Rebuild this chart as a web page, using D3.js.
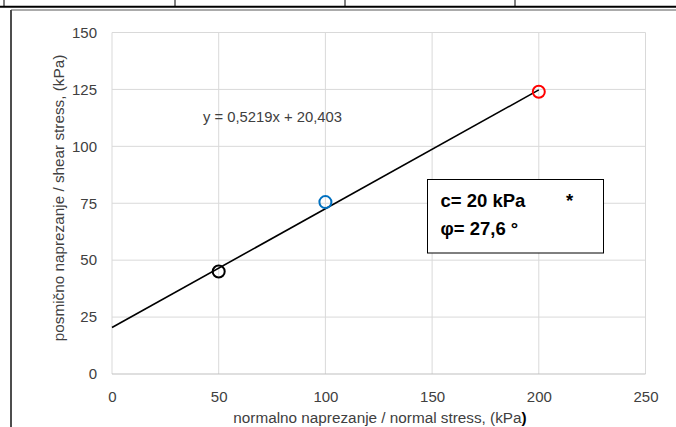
<!DOCTYPE html>
<html><head><meta charset="utf-8">
<script src="https://cdn.jsdelivr.net/npm/d3@7"></script>
<style>
html,body{margin:0;padding:0;background:#fff;}
svg{display:block;font-family:"Liberation Sans",Arial,sans-serif;}
</style></head>
<body>
<svg id="c" width="676" height="427"></svg>
<script>
const xTicks = [0, 50, 100, 150, 200, 250];
const yTicks = [0, 25, 50, 75, 100, 125, 150];
const pointsX = [50, 100, 200];
const pointsY = [45, 75.5, 124];
const pointColors = ["#000000", "#0070c0", "#ff0000"];
const slope = 0.5219, intercept = 20.403;
const lineX = [0, 200];
const equationText = "y = 0,5219x + 20,403";
const boxLines = ["c= 20 kPa", "φ= 27,6 °"];
const xTitle = "normalno naprezanje / normal stress, (kPa";
const yTitle = "posmično naprezanje / shear stress, (kPa)";

const svg = d3.select("#c");
const x = d3.scaleLinear().domain([0, 250]).range([112, 645.5]);
const y = d3.scaleLinear().domain([0, 150]).range([374, 32.5]);

// page decorations (table above chart)
svg.append("line").attr("x1",0).attr("x2",676).attr("y1",6.8).attr("y2",6.8).attr("stroke","#000").attr("stroke-width",2);
[4,175,345,515].forEach(v=>svg.append("line").attr("x1",v).attr("x2",v).attr("y1",0).attr("y2",6).attr("stroke","#000").attr("stroke-width",1));
// chart frame
svg.append("line").attr("x1",11).attr("x2",676).attr("y1",10).attr("y2",10).attr("stroke","#595959").attr("stroke-width",1);
svg.append("line").attr("x1",11).attr("x2",11).attr("y1",10).attr("y2",427).attr("stroke","#4d4d4d").attr("stroke-width",2);

// gridlines
svg.append("g").selectAll("line").data(xTicks).join("line")
  .attr("x1",d=>x(d)).attr("x2",d=>x(d)).attr("y1",y(150)).attr("y2",y(0))
  .attr("stroke","#d9d9d9").attr("stroke-width",1);
svg.append("g").selectAll("line").data(yTicks).join("line")
  .attr("x1",x(0)).attr("x2",x(250)).attr("y1",d=>y(d)).attr("y2",d=>y(d))
  .attr("stroke",d=>d===0?"#bfbfbf":"#d9d9d9").attr("stroke-width",1);

// axes tick labels
const xAxis = d3.axisBottom(x).tickValues(xTicks).tickSize(0).tickPadding(0).tickFormat(d3.format("d"));
const gx = svg.append("g").attr("transform","translate(0,391)").call(xAxis);
gx.select(".domain").remove();
gx.selectAll("text").attr("font-size",15).attr("fill","#404040").attr("font-family","Liberation Sans, Arial, sans-serif").attr("dy","0.71em");
const yAxis = d3.axisLeft(y).tickValues(yTicks).tickSize(0).tickPadding(0).tickFormat(d3.format("d"));
const gy = svg.append("g").attr("transform","translate(97,0)").call(yAxis);
gy.select(".domain").remove();
gy.selectAll("text").attr("font-size",15).attr("fill","#404040").attr("font-family","Liberation Sans, Arial, sans-serif");

// titles
const xt = svg.append("text").attr("x",380).attr("y",423).attr("text-anchor","middle").attr("font-size",15.3).attr("fill","#404040").text(xTitle);
xt.append("tspan").attr("font-weight","bold").attr("fill","#000").text(")");
svg.append("text").attr("transform","translate(64,198) rotate(-90)").attr("text-anchor","middle").attr("font-size",15.3).attr("fill","#404040").text(yTitle);

// trendline
svg.append("path").datum(lineX)
  .attr("d", d3.line().x(d=>x(d)).y(d=>y(slope*d+intercept)))
  .attr("stroke","#000").attr("stroke-width",1.6).attr("fill","none");

// points
svg.append("g").selectAll("circle").data(pointsX).join("circle")
  .attr("cx",d=>x(d)).attr("cy",(d,i)=>y(pointsY[i])).attr("r",6)
  .attr("fill","none").attr("stroke",(d,i)=>pointColors[i]).attr("stroke-width",2);

// equation
svg.append("text").attr("x",203).attr("y",121.5).attr("font-size",14.8).attr("fill","#404040").text(equationText);

// box
svg.append("rect").attr("x",427.5).attr("y",179.5).attr("width",176).attr("height",73.5).attr("fill","#fff").attr("stroke","#000").attr("stroke-width",1);
svg.append("text").attr("x",440.5).attr("y",207).attr("font-size",18.5).attr("font-weight","bold").attr("fill","#000").text(boxLines[0]);
svg.append("text").attr("x",440.5).attr("y",235).attr("font-size",18.5).attr("font-weight","bold").attr("fill","#000").text(boxLines[1]);
svg.append("text").attr("x",566).attr("y",207).attr("font-size",18.5).attr("font-weight","bold").attr("fill","#000").text("*");
</script>
</body></html>
